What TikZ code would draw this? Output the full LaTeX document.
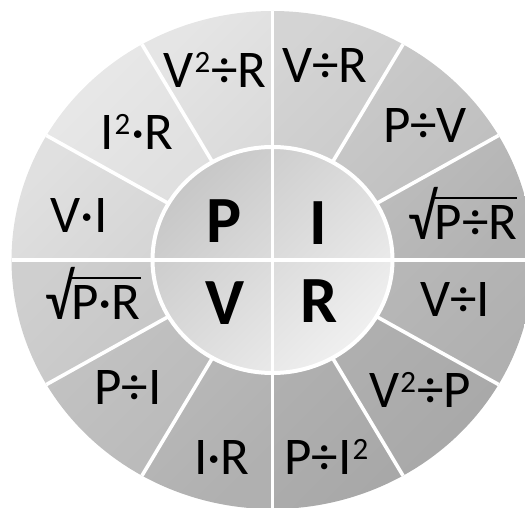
\documentclass[tikz,border=0pt]{standalone}
\usepackage{fontspec}
\usepackage{graphicx}
\setmainfont{Carlito}
\usetikzlibrary{calc}
% square root sign with a bar over its argument
\newcommand\sqrtbar[1]{\scalebox{1.05}[1.22]{√}\kern-1.8pt\vbox{\hrule height 2.8pt\kern 6.5pt\hbox{#1}}}
% raised figure two
\newcommand\sqd{\kern1pt\raisebox{15pt}{\fontsize{31}{31}\selectfont 2}\kern1pt}
\begin{document}
\begin{tikzpicture}[x=1pt,y=1pt,
  sep/.style={white, line width=3.6pt},
  lbl/.style={anchor=base, inner sep=0pt, font=\fontsize{53}{53}\selectfont, text=black},
  big/.style={anchor=base, inner sep=0pt, font=\fontsize{66}{66}\selectfont\bfseries, text=black}]
\useasboundingbox (0,0) rectangle (525,508);
\clip (0,0) rectangle (525,508);
\coordinate (c) at (272.5,248);

% outer ring: twelve shaded sectors
\foreach \a/\l/\d in {60/0.83/0.78, 30/0.80/0.74, 0/0.76/0.70, -30/0.73/0.69,
                      -60/0.70/0.66, -90/0.70/0.66, -120/0.74/0.69, -150/0.77/0.72,
                      -180/0.81/0.76, 150/0.88/0.82, 120/0.91/0.86, 90/0.90/0.84}{
  \definecolor{segl}{gray}{\l}
  \definecolor{segd}{gray}{\d}
  \shade[shading=axis, top color=segl, bottom color=segd, shading angle=45]
    (c) -- ([shift={(\a:261pt and 249pt)}]c)
    arc[start angle=\a, end angle=\a+30, x radius=261pt, y radius=249pt] -- cycle;
}

% radial separators of the ring
\foreach \a in {30,60,120,150,210,240,300,330}
  \draw[sep] ([shift={(\a:120pt and 113pt)}]c) -- ([shift={(\a:261pt and 249pt)}]c);

% inner disc
\definecolor{inl}{gray}{0.78}
\definecolor{ind}{gray}{0.94}
\shade[shading=axis, top color=inl, bottom color=ind, shading angle=45]
  (c) ellipse[x radius=120pt, y radius=113pt];
\draw[white, line width=4pt] (c) ellipse[x radius=120pt, y radius=113pt];

% cross through the whole wheel
\draw[sep] ([shift={(90:261pt and 249pt)}]c) -- ([shift={(270:261pt and 249pt)}]c);
\draw[sep] ([shift={(180:261pt and 249pt)}]c) -- ([shift={(0:261pt and 249pt)}]c);

% formulas in the ring
\node[lbl] (vvr)  at (215,420) {V\sqd÷R};
\node[lbl] (vr)   at (325,425) {V÷R};
\node[lbl] (pv)   at (425,365) {P÷V};
\node[lbl] (spr)  at (463,268) {\sqrtbar{P÷R}};
\node[lbl] (vi)   at (455,191) {V÷I};
\node[lbl] (vvp)  at (420,100) {V\sqd÷P};
\node[lbl] (pii)  at (327,33)  {P÷I\sqd};
\node[lbl] (ir)   at (222,33)  {I·R};
\node[lbl] (pi)   at (128,103) {P÷I};
\node[lbl] (sprm) at (93,188)  {\sqrtbar{P·R}};
\node[lbl] (vim)  at (79,275)  {V·I};
\node[lbl] (iir)  at (137,358) {I\sqd·R};

% quantities in the centre
\node[big] (P) at (224,265) {P};
\node[big] (I) at (318,263) {I};
\node[big] (V) at (225,183) {V};
\node[big] (R) at (319,185) {R};
\end{tikzpicture}
\end{document}
